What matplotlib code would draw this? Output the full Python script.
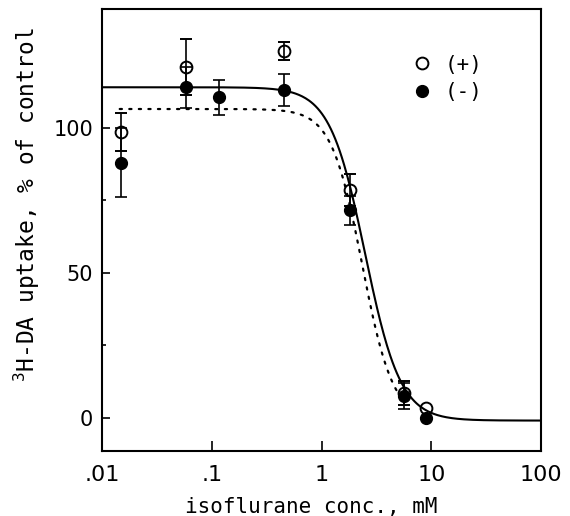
import numpy as np
import matplotlib
matplotlib.use("Agg")
import matplotlib.pyplot as plt
from matplotlib.lines import Line2D

plt.rcParams['font.family'] = ['DejaVu Sans Mono', 'DejaVu Sans']
plt.rcParams['mathtext.fontset'] = 'custom'
plt.rcParams['mathtext.rm'] = 'DejaVu Sans Mono'

# Konzentrationen (mM)
conc = [0.015, 0.058, 0.117, 0.46, 1.8, 5.6, 9.0]
# (+) offene Kreise
plus_val = [98.5, 121, np.nan, 126.5, 78.5, 8.5, 3.5]
plus_err = [6.5, 9.5, np.nan, 3.0, 5.5, 4.0, np.nan]
# (-) gefuellte Kreise
minus_val = [88, 114, 110.5, 113, 71.5, 7.5, 0.0]
minus_err = [12, 7, 6, 5.5, 5, 4.5, np.nan]

# Hill-Kurven: oben, unten, IC50, Steigung
fit_plus = [114, -1, 2.5, 2.7]
fit_minus = [106.5, -1, 2.35, 3.1]

xticks = [0.01, 0.1, 1, 10, 100]
xticklabels = [".01", ".1", "1", "10", "100"]
yticks = [0, 50, 100]


def hill(x, p):
    top, bot, ic, n = p
    return bot + (top - bot) / (1 + (x / ic) ** n)


fig = plt.figure(figsize=(5.7, 5.16), dpi=100)
ax = fig.add_axes([102 / 570, (516 - 451) / 516, 439 / 570, 442 / 516])

xs = np.logspace(-2, 2, 400)
ax.plot(xs, hill(xs, fit_plus), color='black', lw=1.5)
xd = np.logspace(np.log10(0.0145), np.log10(5.5), 300)
ax.plot(xd, hill(xd, fit_minus), color='black', lw=1.6,
        linestyle=(0, (1, 3.3)), dash_capstyle='round')

ax.errorbar(conc, minus_val, yerr=minus_err, fmt='o', color='black',
            ms=8.5, mfc='black', mec='black', ecolor='black',
            elinewidth=1.2, capsize=4.3, capthick=1.2, zorder=3)
ax.errorbar(conc, plus_val, yerr=plus_err, fmt='o', color='black',
            ms=8.5, mfc='none', mec='black', mew=1.4, ecolor='black',
            elinewidth=1.2, capsize=4.3, capthick=1.2, zorder=4)

ax.set_xscale('log')
ax.set_xlim(0.01, 100)
ax.set_ylim(-11.5, 141)
ax.set_xticks(xticks)
ax.set_xticklabels(xticklabels, family='DejaVu Sans')
ax.xaxis.set_minor_locator(matplotlib.ticker.NullLocator())
ax.set_yticks(yticks)
ax.set_yticklabels([str(v) for v in yticks], family='DejaVu Sans')
ax.set_yticks([25, 75], minor=True)

ax.tick_params(axis='x', which='major', direction='in', length=7, width=1.2,
               labelsize=16, pad=10, top=False)
ax.tick_params(axis='y', which='major', direction='in', length=6, width=1.2,
               labelsize=15, pad=6.5, right=False)
ax.tick_params(axis='y', which='minor', direction='in', length=3, width=1.2,
               right=False)
for s in ax.spines.values():
    s.set_linewidth(1.5)

ax.set_xlabel("isoflurane conc., mM", fontsize=15)
ax.xaxis.set_label_coords(0.477, -0.104)
ax.xaxis.label.set_va('top')
ax.set_ylabel(r"$^{3}$H-DA uptake, % of control", fontsize=16.5)
ax.yaxis.set_label_coords(-0.171, 0.558)
ax.yaxis.label.set_va('center')

handles = [Line2D([], [], ls='none', marker='o', ms=8.5, mfc='none', mec='black', mew=1.4),
           Line2D([], [], ls='none', marker='o', ms=8.5, mfc='black', mec='black')]
ax.legend(handles, ["(+)", "(-)"], loc='upper left', bbox_to_anchor=(0.672, 0.93),
          frameon=False, fontsize=15, handlelength=1.0, handletextpad=0.6,
          labelspacing=0.35, borderpad=0.2)

fig.savefig("out.png", dpi=100)
